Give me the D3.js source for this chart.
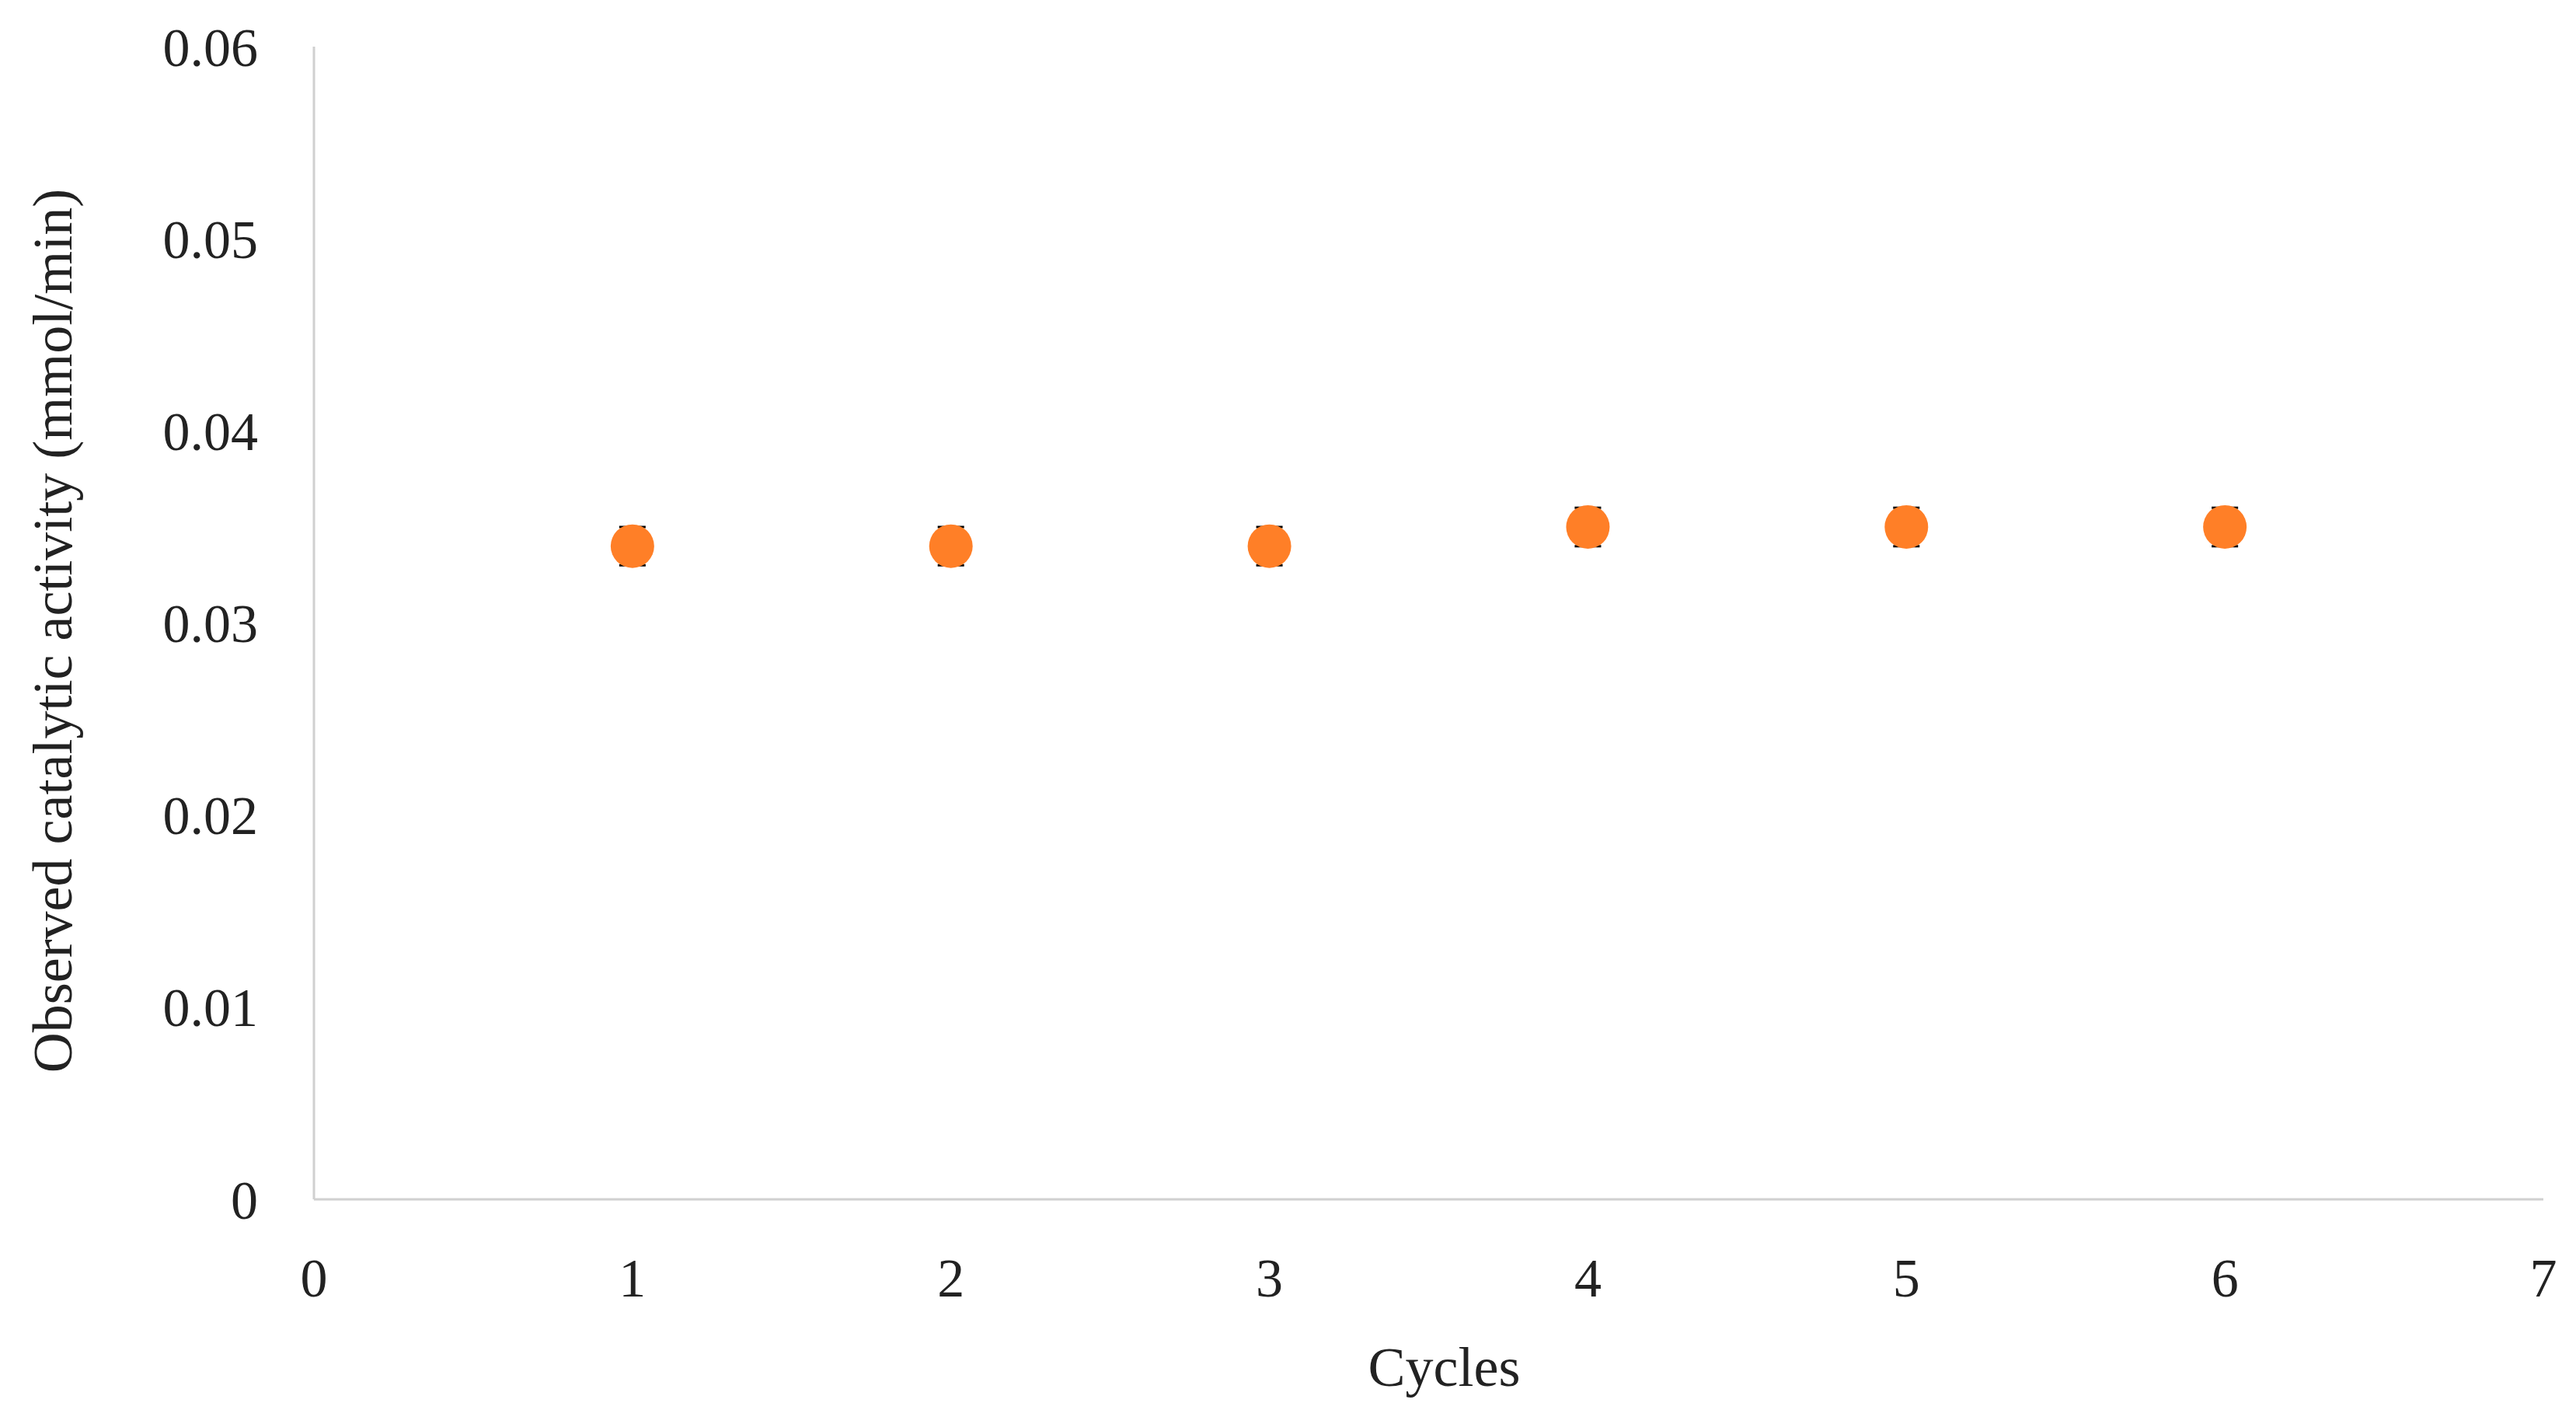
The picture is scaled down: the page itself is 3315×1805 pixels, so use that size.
<!DOCTYPE html>
<html><head><meta charset="utf-8">
<script src="https://cdn.jsdelivr.net/npm/d3@7"></script>
<style>body{margin:0;background:#fff}</style></head>
<body><div id="chart"></div>
<script>
const cycles = [1, 2, 3, 4, 5, 6];
const activity = [0.034, 0.034, 0.034, 0.035, 0.035, 0.035];
const errors = [0.001, 0.001, 0.001, 0.001, 0.001, 0.001];
const yTicks = [0, 0.01, 0.02, 0.03, 0.04, 0.05, 0.06];
const xTicks = [0, 1, 2, 3, 4, 5, 6, 7];

const W = 3315, H = 1805;
const m = {left: 404, right: 42, top: 60, bottom: 262};
const svg = d3.select("#chart").append("svg").attr("width", W).attr("height", H)
  .style("font-family", "'Liberation Serif', serif");

const x = d3.scaleLinear().domain([0, 7]).range([m.left, W - m.right]);
const y = d3.scaleLinear().domain([0, 0.06]).range([H - m.bottom, m.top]);

// axes lines
svg.append("line").attr("x1", x(0)).attr("x2", x(7)).attr("y1", y(0)).attr("y2", y(0))
  .attr("stroke", "#d0d0d0").attr("stroke-width", 3);
svg.append("line").attr("x1", x(0)).attr("x2", x(0)).attr("y1", y(0)).attr("y2", y(0.06))
  .attr("stroke", "#d0d0d0").attr("stroke-width", 3);

svg.selectAll(".yt").data(yTicks).enter().append("text")
  .attr("x", x(0) - 72).attr("y", d => y(d)).attr("dy", "0.35em")
  .attr("text-anchor", "end").attr("font-size", 70).attr("fill", "#222")
  .text(d => d === 0 ? "0" : d.toFixed(2));

svg.selectAll(".xt").data(xTicks).enter().append("text")
  .attr("x", d => x(d)).attr("y", y(0) + 125)
  .attr("text-anchor", "middle").attr("font-size", 70).attr("fill", "#222")
  .text(d => d);

svg.append("text").attr("x", (x(0) + x(7)) / 2 + 20).attr("y", y(0) + 240)
  .attr("text-anchor", "middle").attr("font-size", 72).attr("fill", "#222").text("Cycles");

svg.append("text").attr("transform", `translate(92,${(y(0) + y(0.06)) / 2 + 10}) rotate(-90)`)
  .attr("text-anchor", "middle").attr("font-size", 72).attr("fill", "#222")
  .text("Observed catalytic activity (mmol/min)");

const data = cycles.map((c, i) => ({c, v: activity[i], e: errors[i]}));
const g = svg.append("g");
data.forEach(d => {
  const cx = x(d.c);
  [d.v - d.e, d.v + d.e].forEach(v => {
    g.append("line").attr("x1", cx - 17).attr("x2", cx + 17).attr("y1", y(v)).attr("y2", y(v))
      .attr("stroke", "#000").attr("stroke-width", 3);
  });
  g.append("line").attr("x1", cx).attr("x2", cx).attr("y1", y(d.v - d.e)).attr("y2", y(d.v + d.e))
    .attr("stroke", "#000").attr("stroke-width", 3);
});
g.selectAll("circle").data(data).enter().append("circle")
  .attr("cx", d => x(d.c)).attr("cy", d => y(d.v)).attr("r", 28).attr("fill", "#ff7f27");
</script></body></html>
